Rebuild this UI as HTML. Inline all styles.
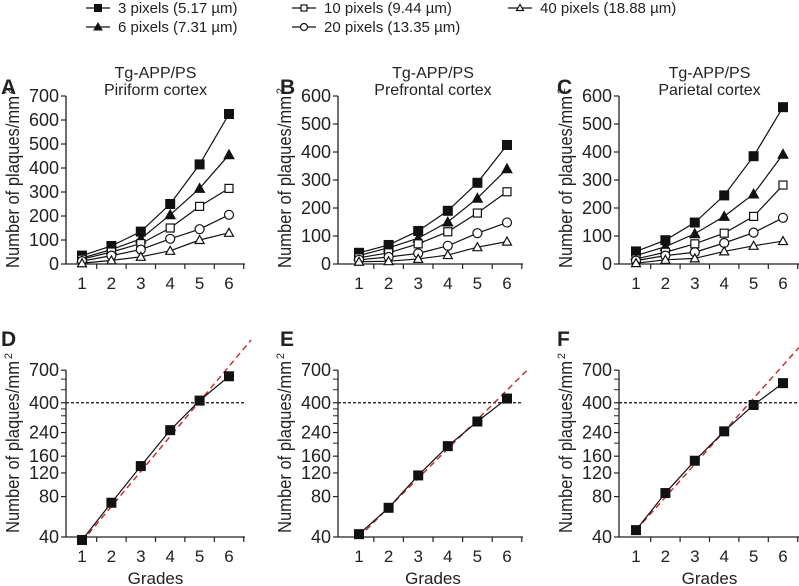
<!DOCTYPE html>
<html><head><meta charset="utf-8">
<style>
body{margin:0;background:#fff;}
svg{display:block;font-family:"Liberation Sans",sans-serif;}
</style></head>
<body>
<svg id="fig" width="799" height="586" viewBox="0 0 799 586" xmlns="http://www.w3.org/2000/svg"></svg>
<script>
const grades = [1,2,3,4,5,6];
const seriesNames = ["3 pixels (5.17 \u00b5m)","6 pixels (7.31 \u00b5m)","10 pixels (9.44 \u00b5m)","20 pixels (13.35 \u00b5m)","40 pixels (18.88 \u00b5m)"];
const seriesKeys = ["px3","px6","px10","px20","px40"];
const markers = ["sqf","trif","sqo","cir","trio"];
// Panel A Piriform
const A_px3 = [35,75,135,250,415,625];
const A_px6 = [25,60,105,205,315,455];
const A_px10 = [20,50,85,150,240,315];
const A_px20 = [12,35,60,105,145,205];
const A_px40 = [3,15,30,55,100,130];
// Panel B Prefrontal
const B_px3 = [40,68,118,190,290,425];
const B_px6 = [30,58,92,150,235,340];
const B_px10 = [22,40,72,115,182,258];
const B_px20 = [15,25,38,65,110,148];
const B_px40 = [8,10,18,32,60,80];
// Panel C Parietal
const C_px3 = [45,85,148,245,385,560];
const C_px6 = [30,62,108,170,250,392];
const C_px10 = [18,42,72,110,170,282];
const C_px20 = [12,30,42,75,112,165];
const C_px40 = [3,15,20,45,65,82];
// Log panels
const D_vals = [38,72,135,250,415,630];
const E_vals = [42,66,115,190,290,430];
const F_vals = [45,85,148,245,385,560];
const D_fit = [37,1.824];
const E_fit = [40,1.655];
const F_fit = [45,1.76];
const logTicks = [40,80,120,160,240,400,700];
const logMinor = [200,280,320,360,500,600];

const svg = document.getElementById('fig');
const NS = 'http://www.w3.org/2000/svg';
function el(tag, attrs, parent){
  const e = document.createElementNS(NS, tag);
  for (const k in attrs) e.setAttribute(k, attrs[k]);
  (parent||svg).appendChild(e);
  return e;
}
function txt(x,y,s,size,anchor,parent,extra){
  const t = el('text',{x:x,y:y,'font-size':size,'text-anchor':anchor||'middle',fill:'#222'},parent);
  if(extra) for(const k in extra) t.setAttribute(k,extra[k]);
  t.textContent = s;
  return t;
}
function marker(g,type,x,y,s){
  s = s||4.5;
  let m;
  if(type==='sqf') m=el('rect',{x:x-s,y:y-s,width:2*s,height:2*s,fill:'#111',stroke:'#111'},g);
  else if(type==='sqo') m=el('rect',{x:x-s+0.5,y:y-s+0.5,width:2*s-1,height:2*s-1,fill:'#fff',stroke:'#111','stroke-width':1.2},g);
  else if(type==='cir') m=el('circle',{cx:x,cy:y,r:s,fill:'#fff',stroke:'#111','stroke-width':1.2},g);
  else if(type==='trif') m=el('polygon',{points:`${x},${y-s-0.5} ${x-s-0.5},${y+s-0.5} ${x+s+0.5},${y+s-0.5}`,fill:'#111',stroke:'#111'},g);
  else m=el('polygon',{points:`${x},${y-s} ${x-s},${y+s-1} ${x+s},${y+s-1}`,fill:'#fff',stroke:'#111','stroke-width':1.2},g);
  return m;
}

// Legend
const legend = el('g',{});


const legPos = [[86,8],[86,27],[292,8],[292,27],[508,8]];
seriesNames.forEach((n,i)=>{
  const g = el('g',{},legend);
  
  
  const [lx,ly]=legPos[i];
  el('line',{x1:lx,y1:ly,x2:lx+24,y2:ly,stroke:'#111','stroke-width':1.2},g);
  marker(g,markers[i],lx+12,ly,3.5);
  txt(lx+32,ly+5,n,15,'start',g);
});

function yTitle(g,ax,cy){
  const len=172;
  const yl=txt(0,0,'Number of plaques/mm',18,'middle',g,{transform:`translate(${ax-47},${cy}) rotate(-90)`,textLength:len,lengthAdjust:'spacingAndGlyphs'});
  
  
  txt(0,0,'2',11,'middle',g,{transform:`translate(${ax-54},${cy-len/2-5}) rotate(-90)`});
}

function linearPanel(id,sub,ax,cat1,step,ymax,data,lx){
  const g = el('g',{});
  
  
  const y0=264, yTop=96;
  const ys = v=> y0-(v/ymax)*(y0-yTop);
  const xs = i=> cat1+step*i;
  const xend = Math.min(cat1+step*5+16,799);
  const pl = txt(lx,94,id,21,'start',g,{'font-weight':'bold'});
  
  
  const t1=txt(cat1+step*2.5,78,'Tg-APP/PS',16,'middle',g);
  
  
  txt(cat1+step*2.5,95,sub,16,'middle',g);
  el('line',{x1:ax,y1:yTop,x2:ax,y2:y0,stroke:'#222','stroke-width':1.3},g);
  el('line',{x1:ax,y1:y0,x2:xend,y2:y0,stroke:'#222','stroke-width':1.3},g);
  for(let v=0;v<=ymax;v+=100){
    el('line',{x1:ax-5,y1:ys(v),x2:ax,y2:ys(v),stroke:'#222','stroke-width':1.2},g);
    txt(ax-7,ys(v)+6,String(v),18,'end',g);
  }
  for(let i=0;i<6;i++){
    el('line',{x1:xs(i)+step/2,y1:y0,x2:xs(i)+step/2,y2:y0+5,stroke:'#222','stroke-width':1.2},g);
    txt(xs(i),289,String(grades[i]),17,'middle',g);
  }
  yTitle(g,ax,182);
  data.forEach((arr,si)=>{
    const sg = el('g',{},g);
    
    
    el('polyline',{points:arr.map((v,i)=>`${xs(i)},${ys(v)}`).join(' '),fill:'none',stroke:'#111','stroke-width':1.2},sg);
    arr.forEach((v,i)=>{
      const m=marker(sg,markers[si],xs(i),ys(v));
      
      
    });
  });
}
linearPanel('A','Piriform cortex',66,82,29.4,700,[A_px3,A_px6,A_px10,A_px20,A_px40],1);
linearPanel('B','Prefrontal cortex',338,359,29.6,600,[B_px3,B_px6,B_px10,B_px20,B_px40],280);
linearPanel('C','Parietal cortex',619,636,29.4,600,[C_px3,C_px6,C_px10,C_px20,C_px40],557);

function logPanel(id,ax,cat1,step,vals,fit,lx,xendOverride){
  const g = el('g',{});
  
  
  const y40=537, k=58.3;
  const ys = v=> y40-Math.log(v/40)*k;
  const xg = gr=> cat1+step*(gr-1);
  const xend = xendOverride||(cat1+step*5+16);
  const pl=txt(lx,346,id,21,'start',g,{'font-weight':'bold'});
  
  
  el('line',{x1:ax,y1:ys(700),x2:ax,y2:y40,stroke:'#222','stroke-width':1.3},g);
  el('line',{x1:ax,y1:y40,x2:xend,y2:y40,stroke:'#222','stroke-width':1.3},g);
  logTicks.forEach(v=>{
    el('line',{x1:ax-5,y1:ys(v),x2:ax,y2:ys(v),stroke:'#222','stroke-width':1.2},g);
    txt(ax-7,ys(v)+6,String(v),18,'end',g);
  });
  logMinor.forEach(v=>el('line',{x1:ax-5,y1:ys(v),x2:ax,y2:ys(v),stroke:'#222','stroke-width':1},g));
  for(let i=0;i<6;i++){
    el('line',{x1:xg(grades[i])+step/2,y1:y40,x2:xg(grades[i])+step/2,y2:y40+5,stroke:'#222','stroke-width':1.2},g);
    txt(xg(grades[i]),562,String(grades[i]),17,'middle',g);
  }
  const xl=txt(cat1+step*2.5,584,'Grades',17,'middle',g);
  
  
  yTitle(g,ax,447);
  const ref=el('line',{x1:ax,y1:ys(400),x2:xend,y2:ys(400),stroke:'#111','stroke-width':1.2,'stroke-dasharray':'3,2'},g);
  
  
  const gEnd = (Math.min(xend+6,799)-cat1)/step+1;
  const fl=el('line',{x1:xg(1),y1:ys(fit[0]),x2:xg(gEnd),y2:ys(fit[0]*Math.pow(fit[1],gEnd-1)),stroke:'#c0282c','stroke-width':1.4,'stroke-dasharray':'6,4'},g);
  
  
  const sg=el('g',{},g);
  
  
  el('polyline',{points:vals.map((v,i)=>`${xg(grades[i])},${ys(v)}`).join(' '),fill:'none',stroke:'#111','stroke-width':1.2},sg);
  vals.forEach((v,i)=>{
    const m=marker(sg,'sqf',xg(grades[i]),ys(v));
    
    
  });
}
logPanel('D',66,82,29.4,D_vals,D_fit,1);
logPanel('E',338,359,29.6,E_vals,E_fit,280);
logPanel('F',619,636,29.4,F_vals,F_fit,557,799);
</script>
</body></html>
